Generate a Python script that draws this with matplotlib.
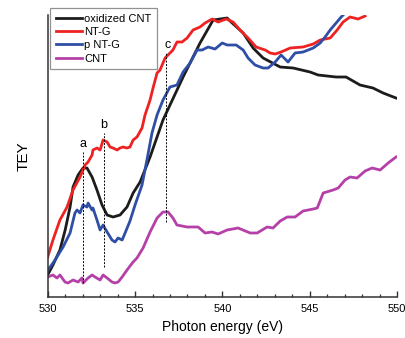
import matplotlib
matplotlib.use("Agg")
import matplotlib.pyplot as plt
from matplotlib.ticker import MultipleLocator

plt.rcParams['font.family'] = ['Liberation Sans', 'DejaVu Sans']

# Data (photon energy in eV, TEY intensity in arbitrary units)
ox_x = [530.0, 530.3, 530.7, 531.0, 531.28, 531.45, 531.74, 532.02, 532.25, 532.54, 532.82, 533.11,
        533.4, 533.74, 534.14, 534.54, 534.89, 535.29, 535.86, 536.6, 537.75, 538.72, 539.47, 540.27,
        540.5, 541.19, 541.76, 542.33, 543.31, 544.05, 545.02, 545.48, 546.51, 547.08, 547.88, 548.62,
        549.2, 549.94]
ox_y = [22, 32, 47, 67, 90, 110, 122, 129, 129, 120, 107, 92, 82, 80, 82, 90, 104, 115, 140, 177, 220,
        254, 277, 279, 275, 264, 249, 239, 230, 229, 225, 222, 220, 220, 212, 209, 204, 199]

ntg_x = [530.0, 530.3, 530.7, 531.11, 531.45, 531.85, 532.14, 532.31, 532.54, 532.59, 532.82, 533.0,
         533.17, 533.4, 533.57, 533.74, 533.97, 534.14, 534.31, 534.54, 534.71, 534.89, 535.11, 535.4,
         535.57, 535.86, 536.03, 536.26, 536.43, 536.72, 536.83, 537.17, 537.4, 537.69, 537.98, 538.32,
         538.72, 539.01, 539.41, 539.75, 540.22, 540.61, 541.01, 541.47, 541.93, 542.45, 542.73, 543.02,
         543.36, 543.88, 544.62, 545.2, 545.6, 546.17, 546.57, 546.91, 547.31, 547.77, 548.17]
ntg_y = [40, 57, 77, 90, 107, 120, 132, 135, 142, 147, 149, 147, 157, 155, 150, 149, 147, 149, 150, 149,
         150, 157, 160, 169, 182, 197, 209, 224, 227, 239, 241, 247, 255, 255, 259, 267, 270, 274, 278,
         275, 278, 275, 267, 259, 250, 247, 244, 243, 245, 249, 250, 253, 257, 259, 267, 275, 280, 278, 281]

pntg_x = [530.02, 530.42, 530.88, 531.28, 531.56, 531.68, 531.85, 532.02, 532.25, 532.31, 532.54, 532.59,
          532.82, 533.0, 533.17, 533.4, 533.68, 533.85, 534.03, 534.26, 534.43, 534.71, 535.0, 535.4,
          535.68, 535.97, 536.26, 536.6, 537.0, 537.4, 537.75, 538.15, 538.55, 538.84, 539.18, 539.58,
          539.99, 540.27, 540.79, 541.19, 541.47, 541.87, 542.33, 542.62, 543.02, 543.36, 543.76, 544.16,
          544.62, 545.2, 545.6, 545.88, 546.17, 546.51, 546.8, 546.91]
pntg_y = [27, 37, 50, 64, 84, 87, 84, 92, 90, 94, 87, 89, 77, 67, 72, 65, 57, 55, 59, 57, 64, 76, 92, 112,
          137, 164, 182, 197, 210, 212, 225, 234, 247, 247, 250, 248, 254, 252, 252, 247, 239, 232, 229,
          229, 235, 242, 235, 244, 245, 249, 254, 260, 267, 274, 280, 282]

cnt_x = [530.0, 530.3, 530.53, 530.7, 530.99, 531.16, 531.45, 531.74, 531.96, 532.02, 532.31, 532.54,
         532.71, 533.0, 533.17, 533.4, 533.68, 533.85, 534.03, 534.26, 534.54, 534.89, 535.11, 535.46,
         535.86, 536.26, 536.6, 536.89, 537.17, 537.4, 537.98, 538.61, 539.01, 539.41, 539.75, 540.27,
         540.9, 541.59, 541.99, 542.56, 542.9, 543.31, 543.71, 544.16, 544.62, 545.2, 545.43, 545.77,
         546.34, 546.63, 547.02, 547.31, 547.71, 548.17, 548.57, 549.03, 549.49, 549.94]
cnt_y = [20, 22, 19, 22, 15, 14, 17, 15, 19, 14, 19, 22, 20, 17, 22, 19, 15, 14, 15, 20, 27, 35, 39, 49,
         65, 79, 85, 85, 79, 72, 70, 70, 64, 65, 63, 67, 69, 64, 64, 70, 69, 76, 80, 80, 86, 88, 89, 104,
         107, 109, 117, 120, 119, 126, 129, 127, 134, 140]

series_labels = ['oxidized CNT', 'NT-G', 'p NT-G', 'CNT']
series_colors = ['#1c1c1c', '#ee2222', '#2f4ea6', '#b440a8']

peak_labels = ['a', 'b', 'c']
peak_x = [532.0, 533.2, 536.8]
peak_ymin = [14, 30, 75]
peak_ymax = [145, 164, 244]

xticks = [530, 535, 540, 545, 550]

fig = plt.figure(figsize=(4.06, 3.38), dpi=100)
ax = fig.add_axes([0.1175, 0.1213, 0.8605, 0.8343])

for xs, ys, lab, col in zip([ox_x, ntg_x, pntg_x, cnt_x], [ox_y, ntg_y, pntg_y, cnt_y],
                            series_labels, series_colors):
    ax.plot(xs, ys, color=col, lw=2.0, label=lab, solid_joinstyle='round')

for lab, px, y0, y1 in zip(peak_labels, peak_x, peak_ymin, peak_ymax):
    ax.plot([px, px], [y0, y1], color='black', lw=0.7, ls=(0, (2, 1.5)))
    ax.text(px + (0.05 if lab == 'c' else 0.0), y1 + 2, lab, ha='center', va='bottom', fontsize=9)

ax.set_xlim(530, 550)
ax.set_ylim(0, 282)
ax.set_xticks(xticks)
ax.set_xticklabels([str(t) for t in xticks], fontsize=8)
ax.xaxis.set_minor_locator(MultipleLocator(1))
ax.tick_params(axis='x', which='major', direction='in', length=4, width=1, pad=5, color='#333333')
ax.tick_params(axis='x', which='minor', direction='in', length=2.5, width=0.9, color='#333333')
ax.set_yticks([])
for s in ['top', 'right']:
    ax.spines[s].set_visible(False)
ax.spines['left'].set_linewidth(1.1)
ax.spines['bottom'].set_linewidth(1.1)
ax.spines['left'].set_color('#333333')
ax.spines['bottom'].set_color('#333333')

ax.set_xlabel('Photon energy (eV)', fontsize=10, labelpad=4)
ax.set_ylabel('TEY', fontsize=11, labelpad=12)

leg = ax.legend(loc='upper left', bbox_to_anchor=(0.0066, 1.025), borderaxespad=0,
                fontsize=8, frameon=True, fancybox=False, handlelength=2.4, handletextpad=0.2,
                labelspacing=0.3, borderpad=0.5)
leg.get_frame().set_edgecolor('#777777')
leg.get_frame().set_linewidth(0.9)

fig.savefig('out.png', dpi=100)
